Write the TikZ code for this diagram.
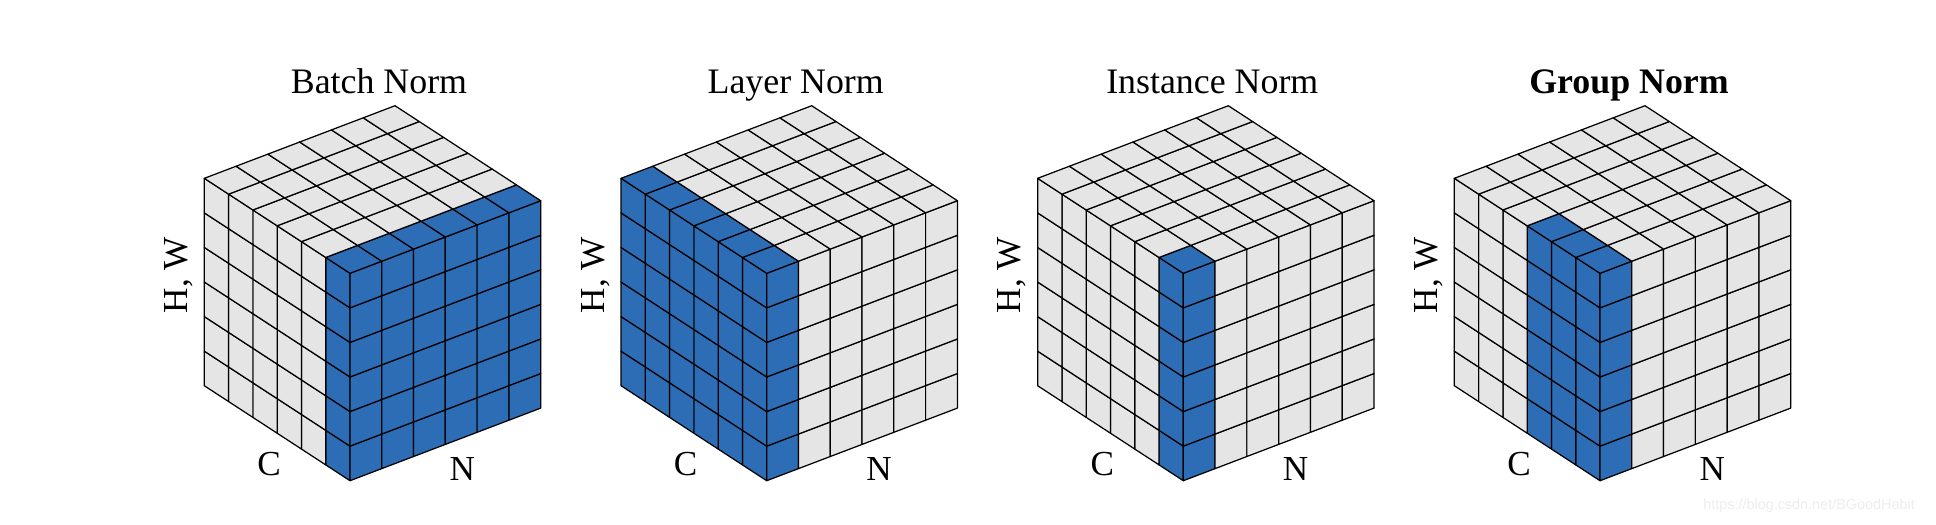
\documentclass[tikz,border=0pt]{standalone}
\usepackage{fontspec}
\setmainfont{Liberation Serif}
\setsansfont{Liberation Sans}
\definecolor{cellblue}{HTML}{2D6DB5}
\definecolor{cellgray}{HTML}{E5E5E5}
\definecolor{markgray}{HTML}{EDEDED}

\begin{document}
\begin{tikzpicture}[x=0.1mm,y=0.1mm]
  \tikzstyle{CellStyle}=[draw=black,line width=0.35pt,line join=round]
  \tikzstyle{TitleStyle}=[inner sep=0pt,anchor=base,font=\fontsize{10.2}{12}\selectfont]
  \tikzstyle{AxisStyle}=[inner sep=0pt,anchor=base,font=\fontsize{10}{12}\selectfont]
  \useasboundingbox (0,0) rectangle (1936,524);

  \foreach \xo/\cmax/\nmax/\title [count=\i] in {350/1/6/{Batch Norm},
      766.7/6/1/{Layer Norm},
      1183.3/1/1/{Instance Norm},
      1600/3/1/{\textbf{Group Norm}}}{
    \begin{scope}[shift={(\xo,43.3)}]
      % C side
      \foreach \c in {1,...,6}{
        \ifnum\c>\cmax\def\fc{cellgray}\else\def\fc{cellblue}\fi
        \foreach \h in {1,...,6}
          \filldraw[CellStyle,fill=\fc] ({-24.28*(\c-1)},{15.83*(\c-1)+34.57*(\h-1)})
            -- ++(-24.28,15.83) -- ++(0,34.57) -- ++(24.28,-15.83) -- cycle;
      }
      % N side
      \foreach \n in {1,...,6}{
        \ifnum\n>\nmax\def\fc{cellgray}\else\def\fc{cellblue}\fi
        \foreach \h in {1,...,6}
          \filldraw[CellStyle,fill=\fc] ({31.78*(\n-1)},{12.1*(\n-1)+34.57*(\h-1)})
            -- ++(31.78,12.1) -- ++(0,34.57) -- ++(-31.78,-12.1) -- cycle;
      }
      % top
      \foreach \c in {1,...,6}
        \foreach \n in {1,...,6}{
          \def\fc{cellblue}
          \ifnum\c>\cmax\def\fc{cellgray}\fi
          \ifnum\n>\nmax\def\fc{cellgray}\fi
          \filldraw[CellStyle,fill=\fc] ({-24.28*(\c-1)+31.78*(\n-1)},{207.4+15.83*(\c-1)+12.1*(\n-1)})
            -- ++(-24.28,15.83) -- ++(31.78,12.1) -- ++(24.28,-15.83) -- cycle;
        }
      % labels
      \node[TitleStyle] (title\i) at (29,387.4) {\title};
      \node[AxisStyle,rotate=90] (hw\i) at (-162.7,205.7) {H, W};
      \node[AxisStyle] (c\i) at (-81,5.7) {C};
      \node[AxisStyle] (n\i) at (112.3,0.7) {N};
    \end{scope}
  }

  \node[text=markgray,font=\sffamily\fontsize{4.1}{5}\selectfont] (mark) at (1809,18) {https://blog.csdn.net/BGoodHabit};
\end{tikzpicture}
\end{document}
